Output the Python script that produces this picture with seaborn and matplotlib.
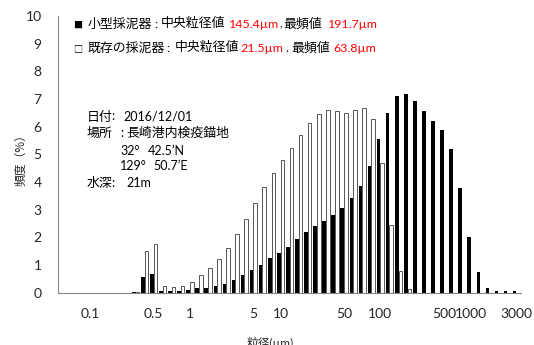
import numpy as np
import pandas as pd
import matplotlib
matplotlib.use("Agg")
import matplotlib.pyplot as plt
import seaborn as sns

# Laser-diffraction channels (µm): 51 log-spaced classes, 0.05–3000
sizes = [0.0500, 0.0623, 0.0776, 0.0967, 0.121, 0.150, 0.187, 0.233, 0.291, 0.362,
         0.451, 0.563, 0.701, 0.874, 1.09, 1.36, 1.69, 2.11, 2.63, 3.27,
         4.08, 5.08, 6.33, 7.89, 9.83, 12.3, 15.3, 19.0, 23.7, 29.5,
         36.8, 45.9, 57.2, 71.2, 88.8, 111, 138, 172, 214, 267,
         332, 414, 516, 643, 802, 999, 1245, 1551, 1933, 2409, 3000]

# Frequency (%) per channel
small_grab = [0, 0, 0, 0, 0, 0, 0, 0, 0.03, 0.55,
              0.66, 0.05, 0.04, 0.05, 0.08, 0.15, 0.17, 0.22, 0.31, 0.45,
              0.62, 0.80, 1.01, 1.23, 1.43, 1.66, 1.92, 2.20, 2.42, 2.60,
              2.79, 3.06, 3.41, 3.85, 4.58, 5.55, 6.50, 7.12, 7.18, 6.91,
              6.58, 6.22, 5.86, 5.20, 3.79, 2.01, 0.73, 0.16, 0.05, 0.05, 0.05]
existing_grab = [0, 0, 0, 0, 0, 0, 0, 0, 0.02, 1.50,
                 1.74, 0.23, 0.20, 0.22, 0.37, 0.62, 0.87, 1.20, 1.60, 2.10,
                 2.66, 3.25, 3.82, 4.32, 4.79, 5.21, 5.70, 6.13, 6.46, 6.59,
                 6.55, 6.50, 6.59, 6.67, 6.27, 4.70, 2.43, 0.78, 0.14, 0,
                 0, 0, 0, 0, 0, 0, 0, 0, 0, 0, 0]

samplers = ["小型採泥器", "既存の採泥器"]
tick_labels = ["0.1", "0.5", "1", "5", "10", "50", "100", "500", "1000", "3000"]
y_ticks = list(range(0, 11))

df = pd.DataFrame({
    "size": sizes * 2,
    "freq": small_grab + existing_grab,
    "sampler": [samplers[0]] * len(sizes) + [samplers[1]] * len(sizes),
})

sns.set_style("white")
FONT = ["Lato", "Noto Sans CJK JP", "DejaVu Sans"]
CJK = ["Noto Sans CJK JP", "DejaVu Sans"]
plt.rcParams["font.family"] = FONT

W, H = 534, 345
fig = plt.figure(figsize=(W / 100, H / 100), dpi=100)
ax = fig.add_axes([58.4 / W, 1 - 292.5 / H, (521 - 58.4) / W, (292.5 - 16) / H])

sns.barplot(data=df, x="size", y="freq", hue="sampler", order=sizes,
            hue_order=samplers, palette=["black", "white"], saturation=1,
            width=0.8, errorbar=None, legend=False, linewidth=0, ax=ax)

for bar in ax.containers[0]:
    bar.set_facecolor("black")
    bar.set_edgecolor("none")
for bar in ax.containers[1]:
    bar.set_facecolor("white")
    bar.set_edgecolor("#555555")
    bar.set_linewidth(0.7 if bar.get_height() > 0 else 0)

ax.set_xlim(-0.5, len(sizes) - 0.5)
ax.set_ylim(0, 10)
ax.set_yticks(y_ticks)
ax.set_yticklabels([str(v) for v in y_ticks], fontsize=10)

log_sizes = np.log(np.array(sizes))
tick_pos = [int(np.argmin(np.abs(log_sizes - np.log(float(t))))) for t in tick_labels]
ax.set_xticks(tick_pos)
ax.set_xticklabels(tick_labels, fontsize=10)
ax.tick_params(axis="x", length=0, pad=11)
ax.tick_params(axis="y", length=3, width=0.8, color="#868686", pad=9)
ax.set_xlabel("")
ax.set_ylabel("")

for side in ["top", "right"]:
    ax.spines[side].set_visible(False)
for side in ["left", "bottom"]:
    ax.spines[side].set_color("#868686")
    ax.spines[side].set_linewidth(0.8)


def put(x, y, s, size=9.3, color="black", family=FONT, **kw):
    fig.text(x / W, 1 - y / H, s, fontsize=size, color=color, family=family,
             va="baseline", ha="left", **kw)


RED = "#ff0000"
NUM = 8.9
# series key lines
put(73.5, 27.5, "■", size=6.5, family=CJK)
put(87.3, 27.5, samplers[0], family=CJK)
put(154.5, 27.5, ":", size=NUM)
put(160.7, 27.5, "中央粒径値", family=CJK)
put(229.3, 27.5, "145.4µm", size=NUM, color=RED)
put(279.0, 27.5, ",", size=NUM)
put(283.3, 27.5, "最頻値", family=CJK)
put(328.3, 27.5, "191.7µm", size=NUM, color=RED)

put(73.5, 51.5, "□", size=6.5, family=CJK)
put(87.3, 51.5, samplers[1], family=CJK)
put(166.5, 51.5, ":", size=NUM)
put(175.0, 51.5, "中央粒径値", family=CJK)
put(240.7, 51.5, "21.5µm", size=NUM, color=RED)
put(285.5, 51.5, ",", size=NUM)
put(291.7, 51.5, "最頻値", family=CJK)
put(333.3, 51.5, "63.8µm", size=NUM, color=RED)

# sampling info
put(86.7, 120.5, "日付", family=CJK)
put(111.5, 120.5, ":", size=9)
put(123.3, 120.5, "2016/12/01", size=9)
put(86.7, 137.0, "場所", family=CJK)
put(120.0, 137.0, ":", size=9)
put(126.7, 137.0, "長崎港内検疫錨地", family=CJK)
put(120.0, 154.5, "32°", size=9)
put(147.3, 154.5, "42.5’N", size=9)
put(120.0, 170.5, "129°", size=9)
put(153.3, 170.5, "50.7’E", size=9)
put(86.7, 187.0, "水深", family=CJK)
put(111.5, 187.0, ":", size=9)
put(126.7, 187.0, "21m", size=9)

# axis titles
fig.text(20.7 / W, 1 - 157 / H, "頻度（%）", fontsize=8.5, family=CJK,
         rotation=90, ha="center", va="center")
fig.text(270 / W, 1 - 337 / H, "粒径(µm)", fontsize=8.5, family=FONT,
         ha="center", va="top")

fig.savefig("out.png", dpi=100)
